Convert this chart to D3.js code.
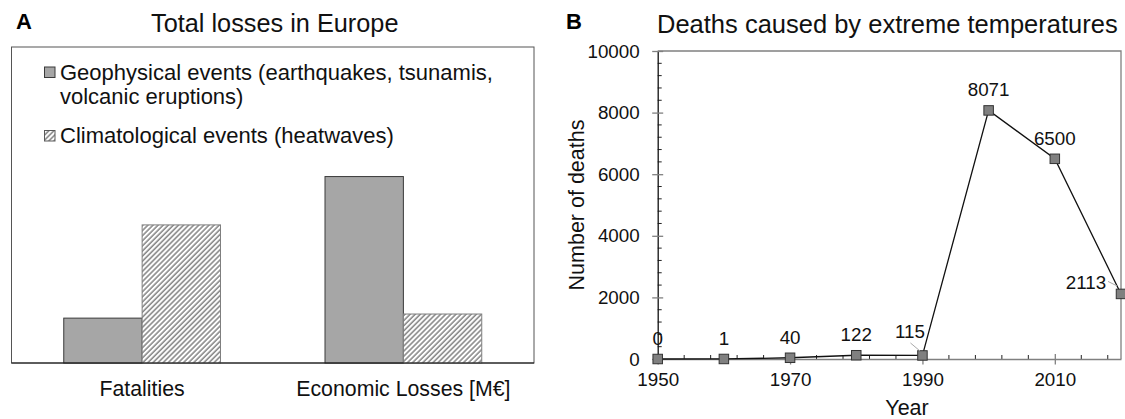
<!DOCTYPE html>
<html>
<head>
<meta charset="utf-8">
<script src="https://cdn.jsdelivr.net/npm/d3@7"></script>
<style>
  html, body { margin: 0; padding: 0; background: #fff; }
  svg { display: block; font-family: "Liberation Sans", Arial, sans-serif; }
</style>
</head>
<body>
<svg id="chart" width="1125" height="419"></svg>
<script>
// ---------- Panel A data (relative bar heights, no axis shown) ----------
const barCategories = ["Fatalities", "Economic Losses [M€]"];
const seriesNames = ["Geophysical events (earthquakes, tsunamis,\nvolcanic eruptions)", "Climatological events (heatwaves)"];
const geophysicalValues = [14.2, 59.0];
const climatologicalValues = [43.7, 15.5];

// ---------- Panel B data ----------
const years = [1950, 1960, 1970, 1980, 1990, 2000, 2010, 2020];
const deaths = [0, 1, 40, 122, 115, 8071, 6500, 2113];
const yTickValues = [0, 2000, 4000, 6000, 8000, 10000];
const xTickValues = [1950, 1970, 1990, 2010];

const svg = d3.select("#chart");
const defs = svg.append("defs");
const hw = 3.6;
const hatch = defs.append("pattern")
  .attr("id", "hatch")
  .attr("patternUnits", "userSpaceOnUse")
  .attr("width", hw).attr("height", hw)
  .attr("patternTransform", "rotate(45)");
hatch.append("rect").attr("width", hw).attr("height", hw).attr("fill", "#fff");
hatch.append("line").attr("x1", 1).attr("y1", 0).attr("x2", 1).attr("y2", hw)
  .attr("stroke", "#7a7a7a").attr("stroke-width", 1.4);

// ================= Panel A =================
const A = { left: 11.5, right: 534, top: 47, bottom: 363 };
svg.append("text").attr("x", 16).attr("y", 28.5).attr("font-size", 22).attr("font-weight", "bold").text("A");
svg.append("text").attr("x", (A.left + A.right) / 2 + 2).attr("y", 32).attr("text-anchor", "middle")
  .attr("font-size", 25.3).attr("fill", "#111").text("Total losses in Europe");

svg.append("rect").attr("x", A.left).attr("y", A.top).attr("width", A.right - A.left).attr("height", A.bottom - A.top)
  .attr("fill", "none").attr("stroke", "#555").attr("stroke-width", 1);

const xA = d3.scaleBand().domain(barCategories).range([A.left, A.right]).paddingInner(0.4).paddingOuter(0.2);
const xSub = d3.scaleBand().domain([0, 1]).range([0, xA.bandwidth()]);
const yA = d3.scaleLinear().domain([0, 100]).range([A.bottom, A.top]);

const barData = barCategories.map((c, i) => [
  { cat: c, s: 0, v: geophysicalValues[i] },
  { cat: c, s: 1, v: climatologicalValues[i] }
]).flat();

svg.append("g").selectAll("rect").data(barData).join("rect")
  .attr("x", d => xA(d.cat) + xSub(d.s))
  .attr("y", d => yA(d.v))
  .attr("width", xSub.bandwidth())
  .attr("height", d => yA(0) - yA(d.v))
  .attr("fill", d => d.s === 0 ? "#a6a6a6" : "url(#hatch)")
  .attr("stroke", d => d.s === 0 ? "#3a3a3a" : "#7f7f7f")
  .attr("stroke-width", 1);

svg.append("line").attr("x1", A.left).attr("x2", A.right).attr("y1", yA(0)).attr("y2", yA(0))
  .attr("stroke", "#111").attr("stroke-width", 1.2);

// category labels
svg.append("g").selectAll("text").data(barCategories).join("text")
  .attr("x", d => xA(d) + xA.bandwidth() / 2)
  .attr("y", 396).attr("text-anchor", "middle").attr("font-size", 21.3).attr("fill", "#111")
  .text(d => d);

// legend
const legendRows = [
  { s: 0, y: 79.5, lines: seriesNames[0].split("\n") },
  { s: 1, y: 143, lines: seriesNames[1].split("\n") }
];
const lg = svg.append("g");
legendRows.forEach(r => {
  lg.append("rect").attr("x", 44.5).attr("y", r.y - 12.5).attr("width", 10.5).attr("height", 10.5)
    .attr("fill", r.s === 0 ? "#a6a6a6" : "url(#hatch)")
    .attr("stroke", r.s === 0 ? "#3a3a3a" : "#5a5a5a").attr("stroke-width", 1);
  r.lines.forEach((t, j) => {
    lg.append("text").attr("x", 60).attr("y", r.y + j * 24.7).attr("font-size", 22).attr("fill", "#111").text(t);
  });
});

// ================= Panel B =================
const B = { left: 657.7, right: 1121, top: 51, bottom: 359 };
svg.append("text").attr("x", 566).attr("y", 28.5).attr("font-size", 22).attr("font-weight", "bold").text("B");
svg.append("text").attr("x", 657).attr("y", 33).attr("font-size", 25.5).attr("fill", "#111")
  .text("Deaths caused by extreme temperatures");

const xB = d3.scaleLinear().domain([1950, 2020]).range([B.left, B.right]);
const yB = d3.scaleLinear().domain([0, 10000]).range([B.bottom, B.top]);

// top & right border
svg.append("path").attr("d", `M${B.left},${B.top}H${B.right}V${B.bottom}`)
  .attr("fill", "none").attr("stroke", "#808080").attr("stroke-width", 1.3);

// minor ticks
const yMinor = d3.range(0, 10001, 400).filter(v => v % 2000 !== 0);
svg.append("g").selectAll("line").data(yMinor).join("line")
  .attr("x1", B.left).attr("x2", B.left + 4).attr("y1", d => yB(d)).attr("y2", d => yB(d))
  .attr("stroke", "#222").attr("stroke-width", 1);
const xMinor = d3.range(1950, 2021, 4).filter(v => (v - 1950) % 20 !== 0);
svg.append("g").selectAll("line").data(xMinor).join("line")
  .attr("x1", d => xB(d)).attr("x2", d => xB(d)).attr("y1", B.bottom).attr("y2", B.bottom - 4)
  .attr("stroke", "#222").attr("stroke-width", 1);

// y axis
const yAxis = d3.axisLeft(yB).tickValues(yTickValues).tickSize(0).tickPadding(18).tickFormat(d3.format("d"));
const gy = svg.append("g").attr("transform", `translate(${B.left},0)`).call(yAxis);
gy.select(".domain").attr("stroke", "#111").attr("stroke-width", 1.3);
gy.selectAll(".tick text").attr("font-size", 18.8).attr("fill", "#111").attr("font-family", "Liberation Sans, Arial, sans-serif");
gy.selectAll(".tick").append("line").attr("x1", -5.5).attr("x2", 5.5).attr("stroke", "#808080").attr("stroke-width", 1.3);

// x axis
const xAxis = d3.axisBottom(xB).tickValues(xTickValues).tickSize(0).tickPadding(14).tickFormat(d3.format("d"));
const gx = svg.append("g").attr("transform", `translate(0,${B.bottom})`).call(xAxis);
gx.select(".domain").attr("stroke", "#808080").attr("stroke-width", 1.3);
gx.selectAll(".tick text").attr("font-size", 18.8).attr("fill", "#111").attr("font-family", "Liberation Sans, Arial, sans-serif");
gx.selectAll(".tick").append("line").attr("y1", -5).attr("y2", 5.5).attr("stroke", "#808080").attr("stroke-width", 1.3);

// axis titles
svg.append("text").attr("transform", `translate(584,${(B.top + B.bottom) / 2}) rotate(-90)`)
  .attr("text-anchor", "middle").attr("font-size", 21.5).attr("fill", "#111").text("Number of deaths");
svg.append("text").attr("x", 907).attr("y", 415).attr("text-anchor", "middle")
  .attr("font-size", 21.5).attr("fill", "#111").text("Year");

// line
const pts = years.map((y, i) => ({ year: y, v: deaths[i] }));
svg.append("path").datum(pts)
  .attr("d", d3.line().x(d => xB(d.year)).y(d => yB(d.v)))
  .attr("fill", "none").attr("stroke", "#111").attr("stroke-width", 1.3);

// markers
const ms = 9.5;
svg.append("g").selectAll("rect").data(pts).join("rect")
  .attr("x", d => xB(d.year) - ms / 2).attr("y", d => yB(d.v) - ms / 2)
  .attr("width", ms).attr("height", ms)
  .attr("fill", "#808080").attr("stroke", "#333").attr("stroke-width", 1);

// data labels (placement offsets in px relative to point)
const labelPlace = { 1990: [-12.5, -17], 2020: [-35, -5] };
const leaders = { 1990: [[-12, -12.5], [-2.5, -4.5]], 2020: [[-13, -12.5], [-4, -8]] };
svg.append("g").selectAll("text").data(pts).join("text")
  .attr("x", d => xB(d.year) + (labelPlace[d.year] ? labelPlace[d.year][0] : 0))
  .attr("y", d => yB(d.v) + (labelPlace[d.year] ? labelPlace[d.year][1] : -14))
  .attr("text-anchor", "middle").attr("font-size", 18.8).attr("fill", "#111")
  .text(d => d.v);
svg.append("g").selectAll("line").data(pts.filter(d => leaders[d.year])).join("line")
  .attr("x1", d => xB(d.year) + leaders[d.year][0][0]).attr("y1", d => yB(d.v) + leaders[d.year][0][1])
  .attr("x2", d => xB(d.year) + leaders[d.year][1][0]).attr("y2", d => yB(d.v) + leaders[d.year][1][1])
  .attr("stroke", "#aaa").attr("stroke-width", 1);
</script>
</body>
</html>
